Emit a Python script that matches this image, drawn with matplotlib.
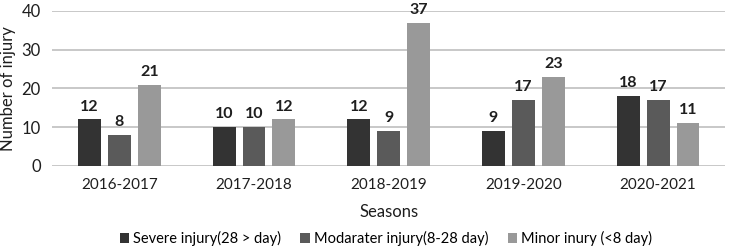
import numpy as np
import matplotlib as mpl
mpl.rcParams['font.family'] = ['Lato', 'DejaVu Sans']
from matplotlib import pyplot as plt

seasons = ["2016-2017", "2017-2018", "2018-2019", "2019-2020", "2020-2021"]
severe = [12, 10, 12, 9, 18]
moderate = [8, 10, 9, 17, 17]
minor = [21, 12, 37, 23, 11]
series_names = ["Severe injury(28 > day)", "Modarater injury(8-28 day)", "Minor inury (<8 day)"]
colors = ["#333333", "#5a5a5a", "#999999"]

fig = plt.figure(figsize=(7.32, 2.48), dpi=100)
ax = fig.add_axes([0.071, 0.331, 0.92, 0.625])

x = np.arange(len(seasons))
w = 0.17
step = 0.222
for i, (vals, name) in enumerate(zip([severe, moderate, minor], series_names)):
    bars = ax.bar(x + (i - 1) * step, vals, w, color=colors[i], label=name, zorder=3)
    for b, v in zip(bars, vals):
        ax.text(b.get_x() + b.get_width() / 2, v + 1.5, str(v), ha='center', va='bottom',
                fontsize=11.5, fontweight='bold', color='#1e1e1e', clip_on=False)

ax.set_xlim(-0.5, 4.5)
ax.set_ylim(0, 40)
ax.set_yticks([0, 10, 20, 30, 40])
ax.yaxis.grid(True, color='#c4c4c4', linewidth=1.3, zorder=0)
for s in ax.spines.values():
    s.set_visible(False)
ax.tick_params(axis='y', length=0, labelsize=12, colors='#1e1e1e', pad=8)
ax.tick_params(axis='x', length=0, labelsize=11, colors='#1e1e1e', pad=9)
ax.set_xticks(x)
ax.set_xticklabels(seasons)
ax.set_ylabel("Number of injury", fontsize=12, color='#1e1e1e', labelpad=4)
ax.set_xlabel("Seasons", fontsize=12, color='#1e1e1e', labelpad=8)
ax.legend(loc='center', bbox_to_anchor=(0.496, -0.47), ncol=3, frameon=False,
          fontsize=10.5, handlelength=0.65, handleheight=0.65, handletextpad=0.3,
          columnspacing=1.3, borderpad=0)

plt.savefig("out.png", dpi=100)
